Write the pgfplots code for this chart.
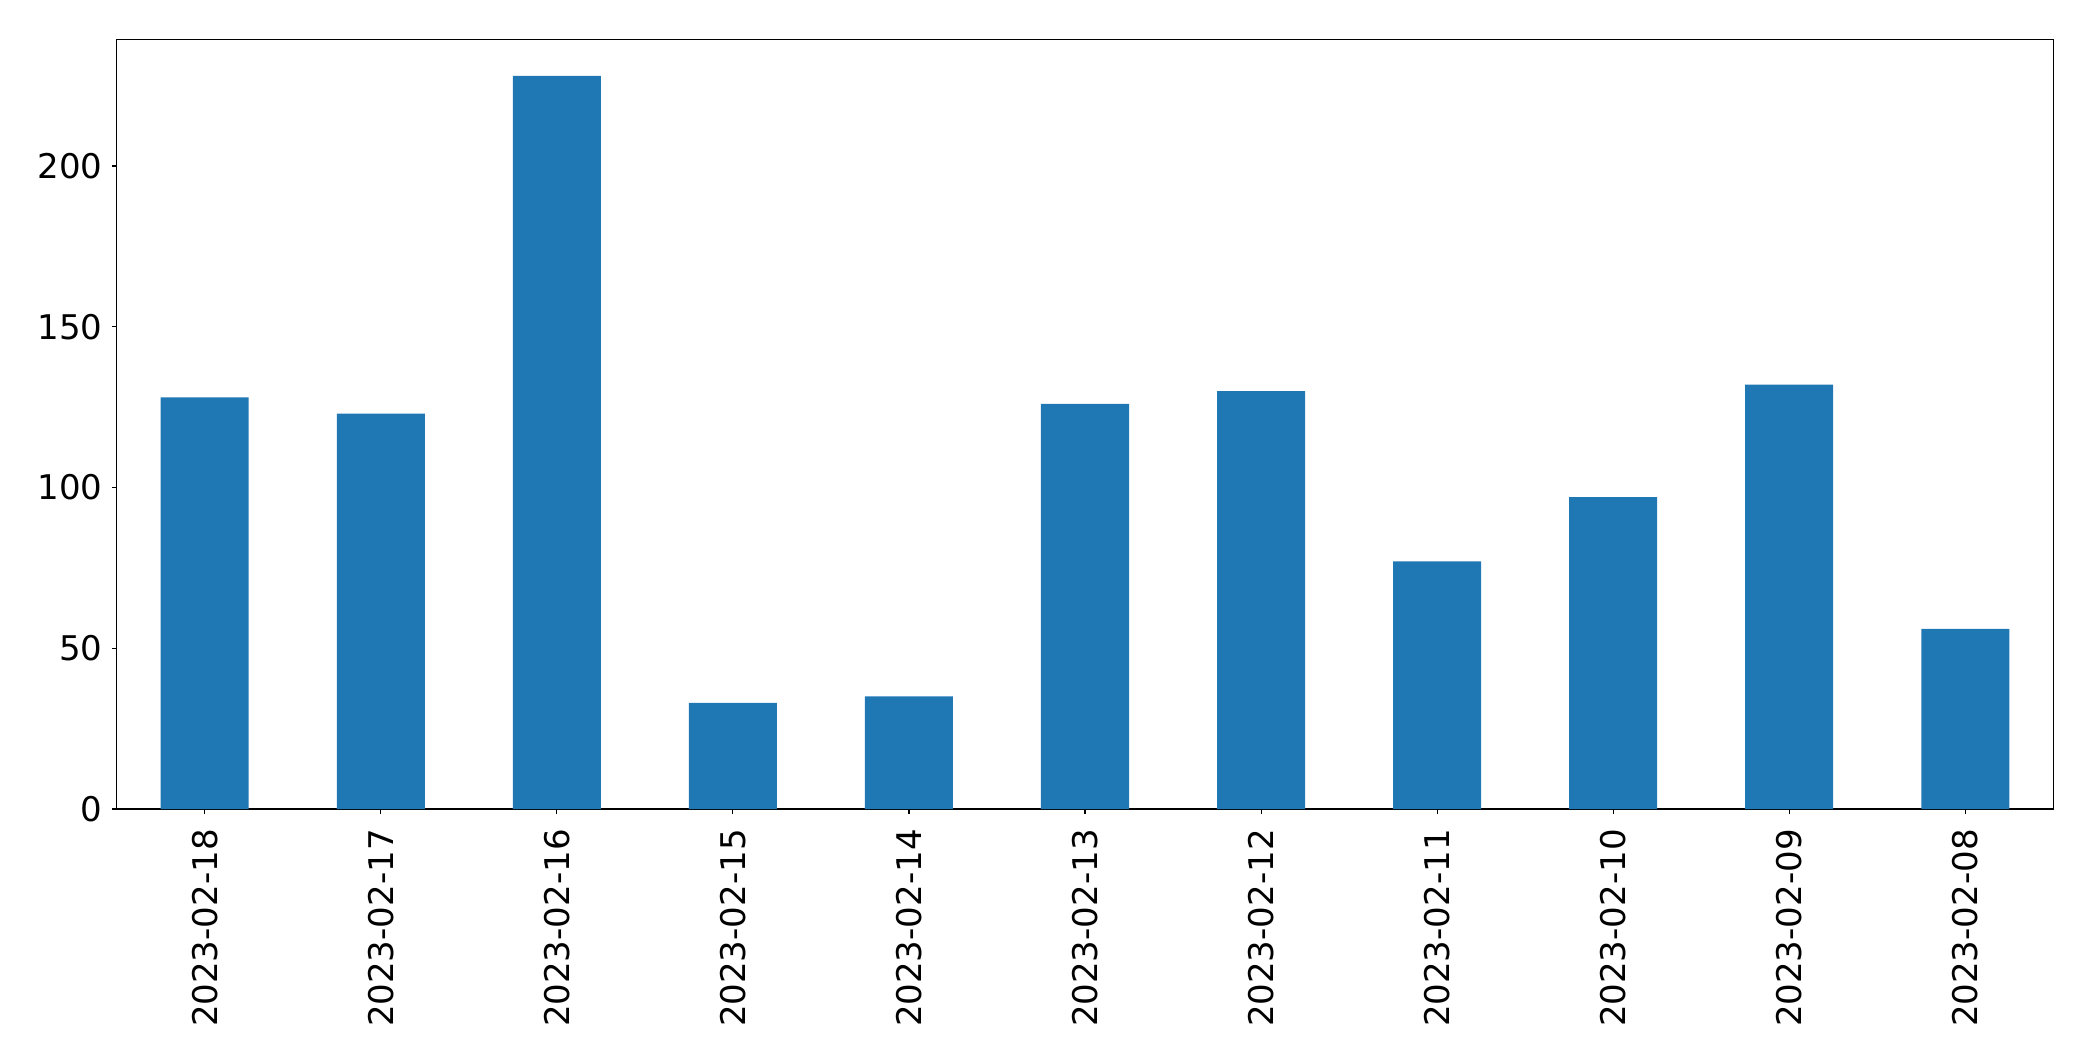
\documentclass[border=0pt]{standalone}
\usepackage{pgfplots}
\pgfplotsset{compat=1.18}
\usepackage{fontspec}
\setmainfont{DejaVu Sans}
\definecolor{mplblue}{HTML}{1F77B4}
\begin{document}
\begin{tikzpicture}
\begin{axis}[
  name=ax,
  scale only axis,
  width=968.3bp, height=384.85bp,
  xmin=-0.5, xmax=10.5,
  ymin=0, ymax=239.4,
  xtick={0,...,10},
  xticklabels={2023-02-18,2023-02-17,2023-02-16,2023-02-15,2023-02-14,2023-02-13,2023-02-12,2023-02-11,2023-02-10,2023-02-09,2023-02-08},
  ytick={0,50,100,150,200},
  tick align=outside,
  xtick pos=bottom, ytick pos=left,
  major tick length=2.45bp,
  every tick/.style={black, line width=0.55bp},
  axis line style={black, line width=0.55bp},
  tick label style={font=\fontsize{17bp}{20bp}\selectfont},
  /pgf/number format/assume math mode=true,
  xticklabel style={rotate=90, anchor=east, inner sep=0pt, xshift=-7.5bp},
  yticklabel style={anchor=east, inner sep=0pt, xshift=-4.5bp},
  scaled y ticks=false,
]
\addplot[ybar, bar width=0.5, fill=mplblue, draw=none, bar shift=0] coordinates {
(0,128) (1,123) (2,228) (3,33) (4,35) (5,126) (6,130) (7,77) (8,97) (9,132) (10,56)
};
\end{axis}
\path ([shift={(-58.35bp,-126bp)}]ax.south west) rectangle ([shift={(19.85bp,19.65bp)}]ax.north east);
\end{tikzpicture}
\end{document}
